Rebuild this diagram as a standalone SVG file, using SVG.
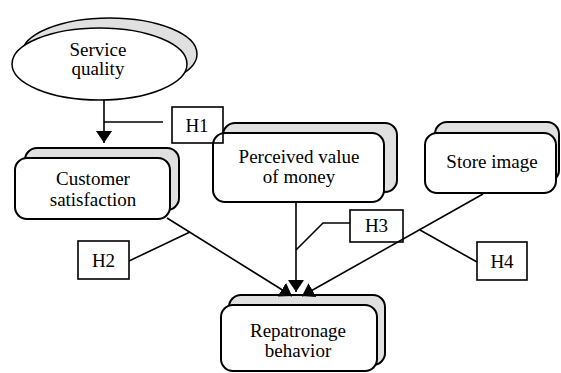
<svg xmlns="http://www.w3.org/2000/svg" width="561" height="373" viewBox="0 0 561 373">
<style>
.sh{fill:#e0e0e0;stroke:#000;stroke-width:2}
.fr{fill:#fff;stroke:#000;stroke-width:2}
.el{stroke:#000;stroke-width:1.5}
.c{fill:none;stroke:#000;stroke-width:1.6}
.hb{fill:none;stroke:#000;stroke-width:1.6}
text{font-family:"Liberation Serif",serif;font-size:19px;fill:#000;text-anchor:middle}
</style>
<defs>
<marker id="ah" markerUnits="userSpaceOnUse" viewBox="0 0 12 16" refX="12" refY="8" markerWidth="12" markerHeight="16" orient="auto">
<path d="M0,0 L12,8 L0,16 z" fill="#000"/>
</marker>
</defs>
<rect width="561" height="373" fill="#fff"/>
<g id="service-quality">
<ellipse cx="109.5" cy="54" rx="87.5" ry="36" fill="#e0e0e0" class="el"/>
<ellipse cx="99.5" cy="64" rx="87.5" ry="36" fill="#fff" class="el"/>
<text x="98" y="56">Service</text>
<text x="98" y="75">quality</text>
</g>
<g id="customer-satisfaction">
<rect x="25" y="148" width="154" height="62" rx="12" class="sh"/>
<rect x="15" y="158" width="155" height="61" rx="12" class="fr"/>
<text x="93" y="185">Customer</text>
<text x="93" y="206">satisfaction</text>
</g>
<g id="perceived-value">
<rect x="223" y="123" width="174" height="69" rx="12" class="sh"/>
<rect x="213" y="133" width="171" height="69" rx="12" class="fr"/>
<text x="299" y="163">Perceived value</text>
<text x="299" y="183">of money</text>
</g>
<g id="store-image">
<rect x="435" y="122" width="124" height="60" rx="12" class="sh"/>
<rect x="425" y="133" width="131" height="60" rx="12" class="fr"/>
<text x="492" y="168">Store image</text>
</g>
<g id="repatronage-behavior">
<rect x="229" y="295" width="156" height="70" rx="12" class="sh"/>
<rect x="221" y="305" width="156" height="66" rx="12" class="fr"/>
<text x="298" y="337">Repatronage</text>
<text x="298" y="357">behavior</text>
</g>
<g id="connectors">
<line x1="104" y1="100" x2="104" y2="143" class="c" marker-end="url(#ah)"/>
<line x1="104" y1="122" x2="163" y2="122" class="c"/>
<line x1="167" y1="218" x2="292" y2="296" class="c" marker-end="url(#ah)"/>
<line x1="190" y1="232" x2="129" y2="261" class="c"/>
<line x1="296" y1="202" x2="296" y2="292" class="c" marker-end="url(#ah)"/>
<polyline points="350,223 323,223 296,250" class="c"/>
<line x1="483" y1="194" x2="302" y2="296" class="c" marker-end="url(#ah)"/>
<line x1="420" y1="230" x2="477" y2="262" class="c"/>
</g>
<g id="h1">
<rect x="172" y="107" width="51" height="36" class="hb"/>
<text x="197" y="132">H1</text>
</g>
<g id="h2">
<rect x="78" y="241" width="51" height="38" class="hb"/>
<text x="103.5" y="267">H2</text>
</g>
<g id="h3">
<rect x="350" y="210" width="53" height="32" class="hb"/>
<text x="376.5" y="232">H3</text>
</g>
<g id="h4">
<rect x="477" y="242" width="50" height="38" class="hb"/>
<text x="502" y="268">H4</text>
</g>
</svg>
